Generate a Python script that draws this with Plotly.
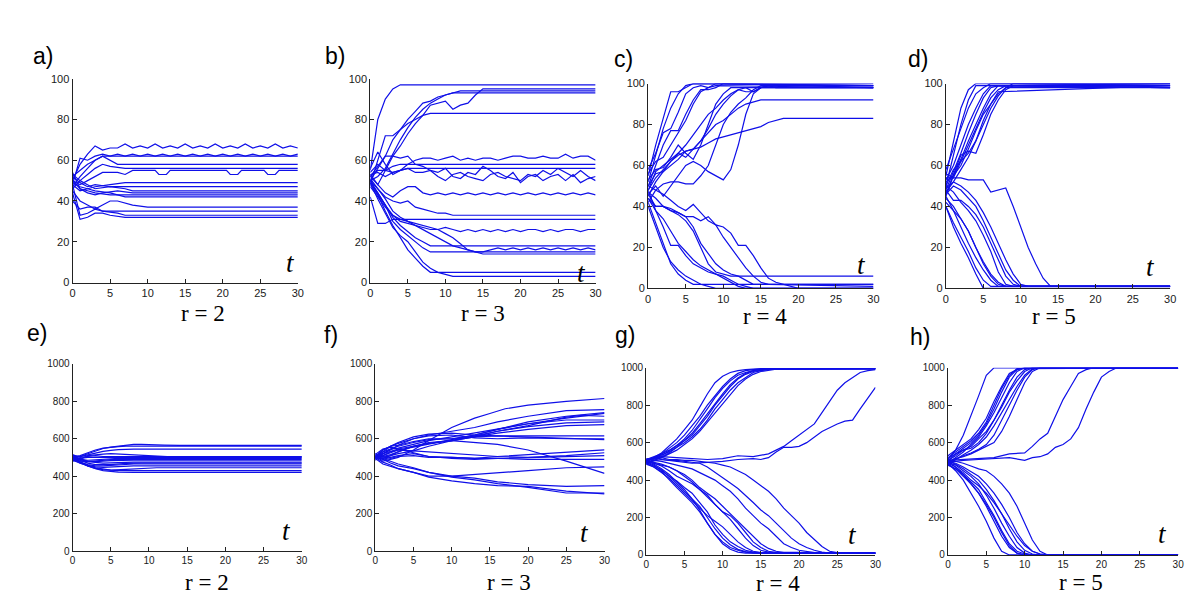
import plotly.graph_objects as go

# ---------------- data (t, value pairs, flattened) ----------------
T_TICKS = [0, 5, 10, 15, 20, 25, 30]
Y_TICKS_TOP = [0, 20, 40, 60, 80, 100]
Y_TICKS_BOT = [0, 200, 400, 600, 800, 1000]

PANEL_A = [
    [0,50, 1,58, 2,63, 3,67, 4,65, 5,66, 6,66, 7,68, 8,66, 9,67, 10,66, 11,68, 12,66, 13,67, 14,66, 15,68, 16,66,
     17,67, 18,66, 19,68, 20,66, 21,67, 22,66, 23,68, 24,66, 25,67, 26,66, 27,68, 28,66, 29,67, 30,66],
    [0,48, 1,61, 2,60, 3,62, 4,63, 5,62, 6,63, 7,62, 8,63, 9,62, 10,63, 11,62, 12,63, 13,62, 14,63, 15,62, 16,63,
     17,62, 18,63, 19,62, 20,63, 21,62, 22,63, 23,62, 24,63, 25,62, 26,63, 27,62, 28,63, 29,62, 30,63],
    [0,52, 1,55, 2,58, 3,60, 4,62, 30,62],
    [0,47, 1,52, 2,56, 3,60, 4,62, 5,60, 6,58, 30,58],
    [0,53, 1,50, 2,53, 3,56, 4,58, 5,57, 7,56, 30,56],
    [0,50, 1,48, 2,50, 3,52, 4,54, 6,54, 7,53, 8,55, 11,55, 11.5,53, 12.5,53, 13,55, 20.5,55, 21,53, 22,53, 22.5,55,
     25.5,55, 26,53, 27,53, 27.5,55, 30,55],
    [0,48, 1,45, 2,46, 3,47, 5,48, 7,49, 30,49],
    [0,52, 1,49, 2,47, 3,48, 5,47, 30,47],
    [0,46, 1,50, 2,48, 3,46, 5,47, 7,46, 8,45, 30,45],
    [0,54, 1,46, 2,44, 3,43, 4,44, 6,45, 8,44, 30,44],
    [0,50, 1,46, 2,45, 3,44, 5,43, 30,43],
    [0,49, 1,47, 2,46, 3,45, 5,44, 7,42, 30,42],
    [0,45, 1,40, 2,38, 3,36, 4,38, 5,40, 6,40, 8,38, 10,37, 30,37],
    [0,48, 1,33, 2,34, 3,36, 4,35, 6,35, 30,35],
    [0,40, 1,36, 2,37, 3,37, 4,35, 6,34, 7,33, 30,33],
    [0,44, 1,31, 2,32, 3,34, 4,34, 5,33, 7,32, 30,32],
]

PANEL_B = [
    [0,55, 1,80, 2,90, 3,95, 4,97, 30,97],
    [0,52, 1,57, 2,62, 3,70, 4,75, 5,80, 6,84, 7,88, 8,89, 9,91, 10,92, 11,93, 12,94, 30,94],
    [0,50, 1,52, 2,56, 3,63, 4,70, 5,76, 6,81, 7,85, 8,88, 9,90, 10,92, 11,93, 12,93, 30,93],
    [0,53, 1,48, 2,55, 3,62, 4,67, 5,73, 6,78, 7,82, 8,87, 9,88, 10,89, 11,85, 12,87, 13,88, 14,92, 15,95, 30,95],
    [0,48, 1,60, 2,72, 3,72, 4,75, 5,78, 6,80, 7,82, 8,83, 30,83],
    [0,56, 1,64, 2,58, 3,53, 4,55, 5,58, 6,60, 7,61, 8,61, 9,60, 10,61, 11,62, 12,60, 13,61, 14,60, 15,61, 16,61,
     17,60, 18,61, 19,62, 20,62, 21,61, 22,61, 23,62, 24,61, 25,61, 26,63, 27,61, 28,62, 29,62, 30,60],
    [0,54, 1,58, 2,55, 3,57, 4,58, 30,58],
    [0,52, 1,55, 2,55, 3,54, 4,55, 5,56, 30,56],
    [0,50, 1,56, 2,62, 3,62, 4,61, 5,62, 6,58, 7,57, 8,55, 9,54, 10,56, 11,52, 12,51, 13,54, 14,53, 15,57, 16,55,
     17,52, 18,51, 19,54, 20,49, 21,52, 22,53, 23,50, 24,52, 25,53, 26,50, 27,53, 28,49, 29,51, 30,52],
    [0,53, 1,54, 2,52, 3,54, 4,55, 5,56, 6,54, 7,54, 8,55, 9,52, 10,50, 11,53, 12,54, 13,52, 14,51, 15,50, 16,53,
     17,54, 18,52, 19,51, 20,50, 21,53, 22,52, 23,55, 24,53, 25,56, 26,54, 27,52, 28,55, 29,52, 30,50],
    [0,52, 1,48, 2,44, 3,42, 4,45, 5,47, 6,47, 7,44, 8,43, 9,44, 10,43, 11,44, 12,43, 13,44, 14,43, 15,44, 16,43,
     17,44, 18,43, 19,44, 20,43, 21,44, 22,43, 23,44, 24,43, 25,44, 26,43, 27,44, 28,43, 29,44, 30,43],
    [0,50, 1,46, 2,42, 3,40, 4,39, 5,40, 6,37, 7,36, 8,35, 9,34, 10,34, 11,33, 30,33],
    [0,42, 1,29, 2,29, 3,31, 30,31],
    [0,48, 1,43, 2,38, 3,33, 4,30, 5,29, 6,28, 7,27, 8,26, 9,26, 10,27, 11,26, 12,25, 13,26, 14,25, 15,26, 16,25,
     17,26, 18,25, 19,26, 20,25, 21,26, 22,26, 23,25, 24,26, 25,25, 26,26, 27,26, 28,25, 29,26, 30,26],
    [0,50, 1,44, 2,38, 3,32, 4,28, 5,25, 6,22, 7,20, 8,18, 30,18],
    [0,47, 1,42, 2,37, 3,33, 4,31, 5,30, 6,28, 7,26, 8,24, 9,22, 10,20, 11,18, 12,17, 13,16, 14,15, 15,15, 16,16,
     17,17, 18,16, 19,17, 20,16, 21,17, 22,16, 23,17, 24,16, 25,17, 26,16, 27,17, 28,16, 29,17, 30,16],
    [0,49, 1,44, 2,38, 3,30, 4,26, 5,23, 6,20, 7,17, 8,15, 30,15],
    [0,51, 1,46, 2,41, 3,35, 4,32, 5,30, 6,29, 7,28, 8,27, 9,26, 10,24, 11,22, 12,19, 13,16, 14,15, 15,14, 30,14],
    [0,50, 1,43, 2,35, 3,28, 4,22, 5,16, 6,12, 7,8, 8,5, 30,5],
    [0,49, 1,41, 2,34, 3,27, 4,23, 5,20, 6,15, 7,10, 8,7, 9,5, 10,4, 11,3, 30,3],
]

PANEL_C = [
    [0,55, 1,70, 2,83, 3,96, 4,96, 5,98, 6,100, 30,100],
    [0,52, 1,65, 2,78, 3,88, 4,95, 5,99, 6,100, 30,99],
    [0,58, 1,66, 2,76, 3,78, 4,86, 5,95, 6,98, 7,99, 8,98, 9,100, 10,100, 30,99],
    [0,50, 1,60, 2,70, 3,77, 4,77, 5,85, 6,92, 7,97, 8,97, 9,98, 10,100, 30,98],
    [0,56, 1,62, 2,64, 3,70, 4,76, 5,82, 6,90, 7,96, 8,98, 9,99, 30,98],
    [0,53, 1,58, 2,59, 3,64, 4,70, 5,66, 6,63, 7,70, 8,80, 9,90, 10,95, 11,98, 12,98, 30,98],
    [0,48, 1,57, 2,60, 3,63, 4,66, 5,64, 6,68, 7,72, 8,78, 9,85, 10,90, 11,94, 12,97, 13,98, 14,96, 15,98, 16,99, 30,99],
    [0,45, 1,52, 2,57, 3,62, 4,66, 5,70, 6,75, 7,80, 8,85, 9,88, 10,92, 11,95, 12,97, 13,96, 14,96, 15,98, 30,98],
    [0,50, 1,56, 2,57, 3,60, 4,63, 5,67, 6,68, 7,72, 8,76, 9,80, 10,82, 11,85, 12,88, 13,90, 14,91, 15,92, 30,92],
    [0,48, 1,54, 2,58, 3,62, 4,65, 5,67, 6,68, 7,69, 8,71, 9,73, 10,74, 11,75, 12,76, 13,77, 14,78, 15,79, 16,81,
     17,82, 18,83, 30,83],
    [0,46, 1,50, 2,45, 3,50, 4,55, 5,60, 6,62, 7,60, 8,57, 9,55, 10,53, 11,58, 12,70, 13,85, 14,95, 15,98, 16,99, 17,98, 30,98],
    [0,42, 1,48, 2,51, 3,52, 4,52, 5,51, 6,51, 7,55, 8,60, 9,70, 10,80, 11,86, 12,90, 13,93, 14,97, 15,99, 30,99],
    [0,47, 1,44, 2,40, 3,38, 4,36, 5,33, 6,28, 7,20, 8,12, 9,8, 10,7, 11,6, 30,6],
    [0,44, 1,40, 2,40, 3,38, 4,37, 5,35, 6,30, 7,22, 8,17, 9,12, 10,9, 11,7, 12,6, 13,4, 14,2, 30,2],
    [0,48, 1,38, 2,30, 3,21, 4,21, 5,16, 6,12, 7,10, 8,8, 9,7, 10,6, 11,4, 12,2, 13,1, 14,0, 30,0],
    [0,50, 1,48, 2,46, 3,43, 4,40, 5,38, 6,41, 7,37, 8,33, 9,31, 10,30, 11,27, 12,21, 13,21, 14,16, 15,10, 16,5,
     17,3, 18,2, 19,1, 20,0, 30,0],
    [0,46, 1,40, 2,40, 3,39, 4,37, 5,35, 6,35, 7,33, 8,35, 9,31, 10,25, 11,20, 12,15, 13,10, 14,6, 15,3, 16,2, 30,1],
    [0,42, 1,32, 2,22, 3,12, 4,7, 5,4, 6,2, 30,2],
    [0,40, 1,30, 2,20, 3,13, 4,9, 5,6, 6,4, 7,2, 8,1, 9,0, 30,0],
    [0,44, 1,38, 2,34, 3,28, 4,22, 5,18, 6,14, 7,11, 8,9, 9,7, 10,5, 11,3, 12,1, 13,0, 30,0],
]

PANEL_D = [
    [0,55, 1,72, 2,88, 3,97, 4,100, 30,100],
    [0,50, 1,65, 2,80, 3,92, 4,99, 30,99],
    [0,58, 1,68, 2,78, 3,88, 4,95, 5,98, 6,100, 30,100],
    [0,53, 1,60, 2,70, 3,80, 4,88, 5,95, 6,99, 30,98],
    [0,48, 1,57, 2,66, 3,76, 4,85, 5,93, 6,98, 7,99, 30,99],
    [0,52, 1,55, 2,63, 3,72, 4,80, 5,88, 6,95, 7,99, 30,98],
    [0,46, 1,56, 2,65, 3,67, 4,66, 5,75, 6,85, 7,92, 8,97, 9,99, 30,98],
    [0,50, 1,58, 2,62, 3,66, 4,72, 5,80, 6,88, 7,94, 8,98, 9,100, 30,99],
    [0,56, 1,54, 2,62, 3,70, 4,78, 5,86, 6,93, 7,97, 8,99, 30,100],
    [0,45, 1,55, 2,60, 3,68, 4,77, 5,85, 6,90, 7,95, 8,98, 30,98],
    [0,47, 1,52, 2,58, 3,64, 4,72, 5,82, 6,90, 7,96, 30,99],
    [0,54, 1,54, 2,54, 3,53, 4,53, 5,53, 6,47, 7,48, 8,49, 9,40, 10,30, 11,20, 12,12, 13,5, 14,1, 30,1],
    [0,49, 1,52, 2,50, 3,47, 4,43, 5,37, 6,30, 7,22, 8,14, 9,7, 10,2, 11,1, 30,1],
    [0,46, 1,50, 2,48, 3,44, 4,40, 5,33, 6,25, 7,17, 8,9, 9,4, 10,1, 30,1],
    [0,48, 1,43, 2,43, 3,40, 4,36, 5,30, 6,22, 7,14, 8,6, 9,2, 10,1, 30,1],
    [0,50, 1,47, 2,42, 3,38, 4,33, 5,26, 6,18, 7,8, 8,2, 9,1, 30,1],
    [0,44, 1,40, 2,34, 3,28, 4,20, 5,12, 6,6, 7,2, 8,1, 30,1],
    [0,40, 1,32, 2,25, 3,18, 4,10, 5,4, 6,1, 30,1],
    [0,45, 1,38, 2,30, 3,22, 4,15, 5,9, 6,4, 7,1, 30,1],
    [0,42, 1,38, 2,34, 3,28, 4,20, 5,13, 6,7, 7,3, 8,1, 30,1],
    [0,40, 1,30, 2,22, 3,15, 4,7, 5,0, 30,0],
]

PANEL_E = [
    [0,510, 1,505, 2,520, 3,535, 4,548, 5,555, 6,560, 7,565, 8,570, 9,570, 10,570, 11,568, 12,566, 14,565, 30,565],
    [0,500, 1,510, 2,525, 3,540, 4,550, 5,555, 6,558, 7,560, 8,560, 30,560],
    [0,495, 1,505, 2,515, 3,525, 4,532, 5,538, 6,542, 8,545, 30,545],
    [0,515, 1,500, 2,505, 3,510, 4,505, 6,505, 30,505],
    [0,490, 1,495, 2,500, 3,500, 30,500],
    [0,505, 1,490, 2,485, 3,488, 4,492, 6,495, 30,495],
    [0,500, 1,480, 2,478, 3,482, 5,488, 7,490, 30,490],
    [0,485, 1,490, 2,480, 3,478, 5,483, 8,485, 30,485],
    [0,510, 1,490, 2,478, 3,472, 4,470, 6,472, 8,475, 30,475],
    [0,500, 1,485, 2,470, 3,462, 5,462, 7,468, 9,470, 30,470],
    [0,495, 1,475, 2,462, 3,455, 4,455, 6,460, 8,465, 30,465],
    [0,490, 1,470, 2,458, 3,450, 4,447, 6,450, 8,455, 30,455],
    [0,505, 1,475, 2,455, 3,442, 4,435, 5,432, 7,436, 9,442, 11,445, 30,445],
    [0,485, 1,470, 2,455, 3,445, 4,438, 5,432, 6,430, 30,430],
    [0,500, 1,475, 2,455, 3,440, 4,430, 5,425, 6,422, 8,420, 30,420],
    [0,480, 1,490, 2,510, 3,515, 4,518, 5,520, 7,515, 9,510, 11,505, 13,503, 30,503],
]

PANEL_F = [
    [0,510, 1,480, 2,490, 3,500, 5,540, 7,590, 10,660, 13,710, 15,735, 17,760, 20,780, 25,800, 30,815],
    [0,500, 1,540, 2,560, 3,575, 5,600, 7,620, 10,640, 13,660, 16,690, 20,720, 25,750, 30,755],
    [0,495, 1,520, 2,545, 3,560, 5,580, 7,595, 10,600, 13,620, 16,650, 20,690, 25,720, 30,740],
    [0,505, 1,510, 2,525, 3,540, 5,555, 7,570, 10,595, 13,620, 16,650, 20,680, 25,710, 30,735],
    [0,520, 1,500, 2,510, 3,530, 5,560, 7,580, 10,590, 13,610, 16,640, 20,670, 25,715, 27,725, 30,720],
    [0,490, 1,530, 2,545, 3,550, 5,570, 7,590, 10,610, 13,630, 16,650, 20,680, 25,700, 30,700],
    [0,500, 1,505, 2,515, 3,530, 5,560, 7,575, 10,590, 13,615, 16,640, 20,665, 25,685, 30,690],
    [0,510, 1,495, 2,510, 3,520, 5,535, 7,560, 10,590, 13,610, 16,630, 20,650, 25,670, 30,675],
    [0,500, 1,530, 2,560, 3,580, 5,610, 7,625, 10,630, 13,620, 16,615, 20,615, 25,615, 30,615],
    [0,485, 1,520, 2,540, 3,565, 5,600, 7,615, 10,620, 13,605, 16,600, 20,605, 25,600, 30,600],
    [0,505, 1,540, 2,560, 3,565, 5,585, 7,600, 10,600, 13,610, 16,615, 20,610, 25,600, 30,595],
    [0,515, 1,545, 2,555, 3,545, 5,525, 7,505, 10,500, 13,495, 16,505, 20,515, 25,530, 30,540],
    [0,495, 1,510, 2,530, 3,540, 5,535, 7,530, 10,520, 13,515, 16,505, 20,500, 25,510, 30,525],
    [0,500, 1,490, 2,500, 3,510, 5,520, 7,505, 10,495, 13,490, 16,495, 20,500, 25,505, 30,510],
    [0,520, 1,505, 2,495, 3,505, 5,510, 7,500, 10,500, 13,495, 16,495, 20,490, 25,490, 30,490],
    [0,495, 1,465, 3,440, 5,420, 7,400, 10,400, 13,410, 16,420, 20,430, 25,445, 30,450],
    [0,500, 1,520, 3,545, 5,560, 7,575, 10,590, 13,580, 16,570, 20,540, 25,480, 30,415],
    [0,510, 1,490, 2,470, 3,455, 5,440, 7,420, 10,400, 13,390, 16,370, 20,355, 25,345, 30,350],
    [0,500, 1,475, 2,460, 3,440, 5,420, 7,395, 10,375, 13,360, 16,350, 20,345, 25,320, 30,305],
    [0,505, 1,495, 2,480, 3,465, 5,445, 7,420, 10,395, 13,380, 16,360, 20,340, 25,310, 30,310],
]

PANEL_G = [
    [0,500, 1,520, 2,545, 3,580, 4,620, 5,670, 6,720, 7,790, 8,860, 9,920, 10,955, 11,975, 12,985, 13,990, 15,995, 30,995],
    [0,490, 1,510, 2,540, 3,570, 4,600, 5,640, 6,690, 7,740, 8,800, 9,850, 10,900, 11,940, 12,970, 13,985, 14,990, 16,995, 30,995],
    [0,505, 1,515, 2,530, 3,555, 4,585, 5,620, 6,665, 7,720, 8,780, 9,840, 10,890, 11,930, 12,960, 13,975, 14,985, 16,995, 30,995],
    [0,495, 1,505, 2,525, 3,545, 4,575, 5,610, 6,650, 7,700, 8,755, 9,810, 10,860, 11,910, 12,945, 13,970, 14,985, 15,990, 17,995, 30,995],
    [0,510, 1,525, 2,540, 3,560, 4,585, 5,610, 6,640, 7,690, 8,740, 9,800, 10,850, 11,900, 12,940, 13,965, 14,980, 16,992, 30,995],
    [0,500, 1,520, 2,535, 3,550, 4,575, 5,600, 6,630, 7,670, 8,720, 9,780, 10,830, 11,880, 12,920, 13,950, 14,975, 15,985, 17,995, 30,995],
    [0,485, 1,505, 2,520, 3,540, 4,560, 5,590, 6,620, 7,660, 8,710, 9,760, 10,810, 11,860, 12,905, 13,940, 14,965, 15,980, 17,992, 30,995],
    [0,505, 2,525, 4,520, 6,515, 8,510, 10,515, 12,530, 14,525, 16,540, 17,560, 18,580, 19,610, 20,640, 21,670, 22,700,
     23,760, 24,820, 25,880, 26,920, 27,950, 28,975, 29,985, 30,990],
    [0,495, 2,510, 4,500, 6,490, 8,495, 10,500, 12,510, 14,515, 15,510, 16,520, 17,550, 18,575, 19,575, 20,580, 21,600,
     22,630, 23,660, 24,680, 25,700, 26,715, 27,720, 28,780, 29,840, 30,895],
    [0,500, 1,480, 2,450, 3,420, 4,380, 5,340, 6,300, 7,240, 8,170, 9,110, 10,70, 11,40, 12,25, 13,15, 14,10, 30,10],
    [0,510, 1,485, 2,460, 3,430, 4,390, 5,350, 6,300, 7,260, 8,200, 9,140, 10,90, 11,55, 12,30, 13,18, 14,12, 15,10, 30,10],
    [0,495, 1,475, 2,455, 3,420, 4,395, 5,360, 6,330, 7,280, 8,230, 9,160, 10,110, 11,70, 12,45, 13,25, 14,15, 16,10, 30,10],
    [0,490, 1,470, 2,440, 3,410, 4,370, 5,330, 6,290, 7,250, 8,210, 9,180, 10,150, 11,110, 12,70, 13,40, 14,20, 15,12, 30,10],
    [0,500, 1,490, 2,475, 3,450, 4,420, 5,400, 6,380, 7,350, 8,320, 9,270, 10,230, 11,210, 12,170, 13,120, 14,70, 15,40,
     16,20, 17,12, 30,10],
    [0,505, 1,490, 2,480, 3,470, 4,450, 5,430, 6,400, 7,360, 8,330, 9,300, 10,260, 11,220, 12,180, 13,140, 14,100, 15,60,
     16,35, 17,20, 18,12, 30,10],
    [0,515, 1,505, 2,500, 3,490, 4,480, 5,470, 6,460, 7,440, 8,420, 9,400, 10,370, 11,340, 12,300, 13,250, 14,210, 15,170,
     16,140, 17,100, 18,60, 19,40, 20,25, 22,12, 30,10],
    [0,510, 1,520, 2,510, 3,505, 4,505, 5,500, 6,495, 7,490, 8,470, 9,440, 10,410, 11,385, 12,355, 13,320, 14,280, 15,240,
     16,210, 17,170, 18,130, 19,90, 20,60, 21,40, 22,25, 23,15, 24,10, 30,10],
    [0,500, 1,515, 2,520, 3,510, 4,510, 5,505, 6,505, 7,500, 8,495, 9,490, 10,480, 11,470, 12,450, 13,430, 14,400, 15,370,
     16,340, 17,300, 18,250, 19,210, 20,170, 21,120, 22,80, 23,45, 24,20, 25,12, 30,10],
    [0,485, 1,470, 2,445, 3,400, 4,360, 5,320, 6,280, 7,230, 8,170, 9,110, 10,60, 11,30, 12,15, 13,10, 30,10],
    [0,500, 1,495, 2,485, 3,470, 4,450, 5,420, 6,390, 7,350, 8,310, 9,270, 10,230, 11,190, 12,140, 13,90, 14,50, 15,25,
     16,15, 30,10],
]

PANEL_H = [
    [0,510, 1,560, 2,640, 3,740, 4,850, 5,960, 6,1000, 30,1000],
    [0,530, 1,560, 2,590, 3,620, 4,670, 5,730, 6,820, 7,900, 8,970, 9,990, 10,1000, 30,1000],
    [0,500, 1,540, 2,570, 3,600, 4,640, 5,700, 6,780, 7,870, 8,950, 9,990, 10,1000, 30,1000],
    [0,520, 1,550, 2,580, 3,610, 4,650, 5,710, 6,800, 7,890, 8,960, 9,995, 30,1000],
    [0,490, 1,520, 2,550, 3,590, 4,630, 5,690, 6,760, 7,840, 8,920, 9,980, 10,1000, 30,1000],
    [0,505, 1,530, 2,560, 3,580, 4,620, 5,660, 6,720, 7,800, 8,880, 9,950, 10,990, 11,1000, 30,1000],
    [0,495, 1,510, 2,535, 3,560, 4,590, 5,630, 6,690, 7,760, 8,830, 9,900, 10,960, 11,995, 12,1000, 30,1000],
    [0,515, 1,540, 2,560, 3,570, 4,600, 5,650, 6,720, 7,790, 8,870, 9,930, 10,980, 11,1000, 30,1000],
    [0,485, 1,510, 2,530, 3,545, 4,565, 5,590, 6,640, 7,720, 8,800, 9,880, 10,950, 11,990, 12,1000, 30,1000],
    [0,500, 1,515, 2,525, 3,540, 4,560, 5,580, 6,600, 7,660, 8,740, 9,830, 10,920, 11,980, 12,1000, 30,1000],
    [0,505, 2,510, 4,515, 6,520, 8,540, 10,545, 11,580, 12,620, 13,650, 14,740, 15,830, 16,900, 17,970, 18,990, 19,1000, 30,1000],
    [0,495, 2,505, 4,510, 6,515, 8,520, 10,505, 11,520, 12,525, 13,540, 14,575, 15,590, 16,620, 17,680, 18,780, 19,870,
     20,950, 21,980, 22,1000, 30,1000],
    [0,490, 1,450, 2,400, 3,330, 4,260, 5,180, 6,90, 7,20, 8,0, 30,0],
    [0,500, 1,470, 2,430, 3,380, 4,330, 5,260, 6,180, 7,100, 8,40, 9,10, 10,0, 30,0],
    [0,480, 1,460, 2,430, 3,390, 4,350, 5,280, 6,210, 7,130, 8,60, 9,20, 10,5, 11,0, 30,0],
    [0,495, 1,480, 2,450, 3,420, 4,380, 5,320, 6,250, 7,170, 8,100, 9,40, 10,10, 11,0, 30,0],
    [0,505, 1,485, 2,460, 3,430, 4,400, 5,350, 6,290, 7,220, 8,140, 9,70, 10,25, 11,5, 12,0, 30,0],
    [0,500, 1,490, 2,470, 3,445, 4,420, 5,380, 6,330, 7,270, 8,200, 9,120, 10,60, 11,20, 12,5, 13,0, 30,0],
    [0,510, 1,500, 2,490, 3,475, 4,460, 5,450, 6,420, 7,380, 8,330, 9,260, 10,170, 11,80, 12,20, 13,0, 30,0],
    [0,490, 1,470, 2,440, 3,400, 4,370, 5,330, 6,280, 7,220, 8,160, 9,100, 10,50, 11,20, 12,5, 13,0, 30,0],
    [0,485, 1,460, 2,420, 3,380, 4,330, 5,270, 6,200, 7,120, 8,50, 9,10, 10,0, 30,0],
]

PANEL_LETTERS = ["a)", "b)", "c)", "d)", "e)", "f)", "g)", "h)"]
R_LABELS = ["r = 2", "r = 3", "r = 4", "r = 5", "r = 2", "r = 3", "r = 4", "r = 5"]

# ---------------- layout (pixel geometry) ----------------
W, H = 1200, 600
# plot boxes: left, right, top, bottom (pixels)
BOXES = [
    (62, 289, 66, 274), (362, 589, 66, 274), (642, 869, 71, 280), (942, 1168, 71, 280),
    (62, 293, 357, 548), (367, 598, 357, 548), (640, 871, 361, 552), (944, 1176, 361, 552),
]
LETTER_POS = [(32, 43), (326, 43), (617, 46), (914, 46), (26, 326), (322, 328), (619, 328), (916, 330)]
RLABEL_POS = [(193, 306), (476, 306), (760, 309), (1051, 309), (197, 580), (502, 580), (773, 581), (1078, 580)]
TLABEL_POS = [(282, 254), (575, 264), (857, 256), (1148, 258), (278, 528), (578, 530), (848, 532), (1160, 531)]

PANELS = [PANEL_A, PANEL_B, PANEL_C, PANEL_D, PANEL_E, PANEL_F, PANEL_G, PANEL_H]

LINE_COLOR = "#0f0fe8"

fig = go.Figure()
layout = dict(
    width=W, height=H, margin=dict(l=0, r=0, t=0, b=0),
    paper_bgcolor="white", plot_bgcolor="white", showlegend=False,
)

def px(x):
    return x / W

def py(y):
    return 1 - y / H

annotations = []
for i, (series_list, box) in enumerate(zip(PANELS, BOXES)):
    k = i + 1
    xa = "x" if k == 1 else f"x{k}"
    ya = "y" if k == 1 else f"y{k}"
    for s in series_list:
        fig.add_trace(go.Scatter(
            x=s[0::2], y=s[1::2], mode="lines", xaxis=xa, yaxis=ya,
            line=dict(color=LINE_COLOR, width=1.2), hoverinfo="skip",
        ))
    l, r, t, b = box
    top_row = i < 4
    ymax = 100 if top_row else 1000
    yt = Y_TICKS_TOP if top_row else Y_TICKS_BOT
    fsize = 11 if top_row else 10
    common = dict(showgrid=False, zeroline=False, showline=True, linecolor="#222222", linewidth=1,
                  ticks="inside", ticklen=4, tickcolor="#222222",
                  tickfont=dict(family="Liberation Sans, Arial, sans-serif", size=fsize, color="#1a1a1a"))
    layout["xaxis" if k == 1 else f"xaxis{k}"] = dict(
        domain=[px(l), px(r)], range=[0, 30], tickvals=T_TICKS, anchor=ya, **common)
    layout["yaxis" if k == 1 else f"yaxis{k}"] = dict(
        domain=[py(b), py(t)], range=[0, ymax], tickvals=yt, anchor=xa, **common)

    lx, ly = LETTER_POS[i]
    annotations.append(dict(x=px(lx), y=py(ly), xref="paper", yref="paper", text=PANEL_LETTERS[i],
                            showarrow=False, xanchor="center", yanchor="middle",
                            font=dict(family="Liberation Sans, Arial, sans-serif", size=23, color="black")))
    rx, ry = RLABEL_POS[i]
    annotations.append(dict(x=px(rx), y=py(ry), xref="paper", yref="paper", text=R_LABELS[i],
                            showarrow=False, xanchor="center", yanchor="middle",
                            font=dict(family="Liberation Serif, Times New Roman, serif", size=23, color="black")))
    tx, ty = TLABEL_POS[i]
    annotations.append(dict(x=px(tx), y=py(ty), xref="paper", yref="paper", text="<i>t</i>",
                            showarrow=False, xanchor="center", yanchor="middle",
                            font=dict(family="Liberation Serif, Times New Roman, serif", size=27, color="black")))

layout["annotations"] = annotations
fig.update_layout(**layout)
fig.write_html("out.html")
